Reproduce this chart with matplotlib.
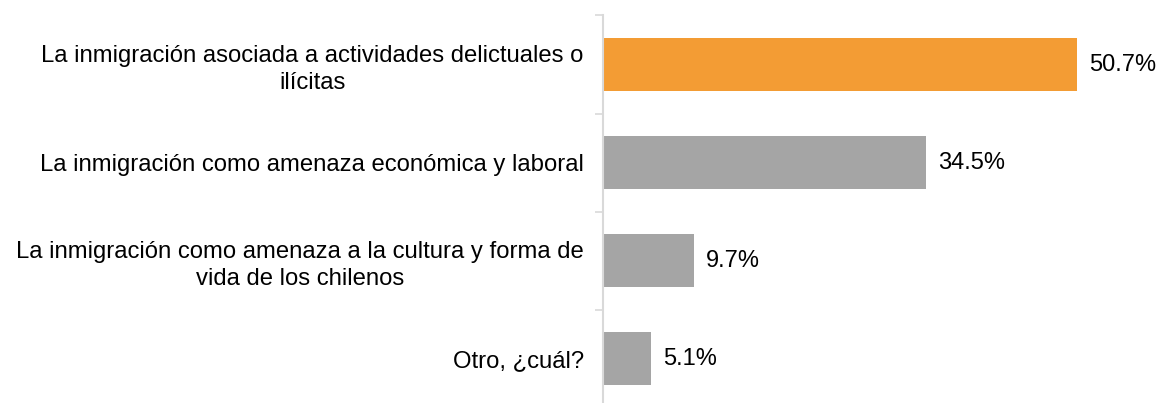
import matplotlib.pyplot as plt

categories = [
    "La inmigración asociada a actividades delictuales o\nilícitas",
    "La inmigración como amenaza económica y laboral",
    "La inmigración como amenaza a la cultura y forma de\nvida de los chilenos",
    "Otro, ¿cuál?",
]
values = [50.7, 34.5, 9.7, 5.1]
bar_colors = ["#F39C34", "#A5A5A5", "#A5A5A5", "#A5A5A5"]

plt.rcParams['font.family'] = ['Liberation Sans', 'DejaVu Sans']

fig = plt.figure(figsize=(11.62, 4.03), dpi=100)
ax = fig.add_axes([0.519, -0.0124, 0.475, 0.974])

pos = list(range(len(categories)))
ax.barh(pos, values, height=0.54, color=bar_colors)
ax.set_ylim(len(categories) - 0.5, -0.5)
ax.set_xlim(0, 59)

for y, v in zip(pos, values):
    ax.text(v + 1.3, y, f"{v:.1f}%", va="center", ha="left", fontsize=17)

ax.set_yticks(pos)
ax.set_yticklabels(categories, fontsize=17.2, multialignment="center", linespacing=1.3)
ax.tick_params(axis="y", length=0, pad=14)
# tick marks between categories
ax.set_yticks([i - 0.5 for i in range(len(categories) + 1)], minor=True)
ax.tick_params(axis="y", which="minor", length=6, color="#D9D9D9", width=1.2)

ax.set_xticks([])
for side in ["top", "right", "bottom"]:
    ax.spines[side].set_visible(False)
ax.spines["left"].set_color("#D9D9D9")
ax.spines["left"].set_linewidth(1.5)

fig.savefig("out.png", dpi=100)
